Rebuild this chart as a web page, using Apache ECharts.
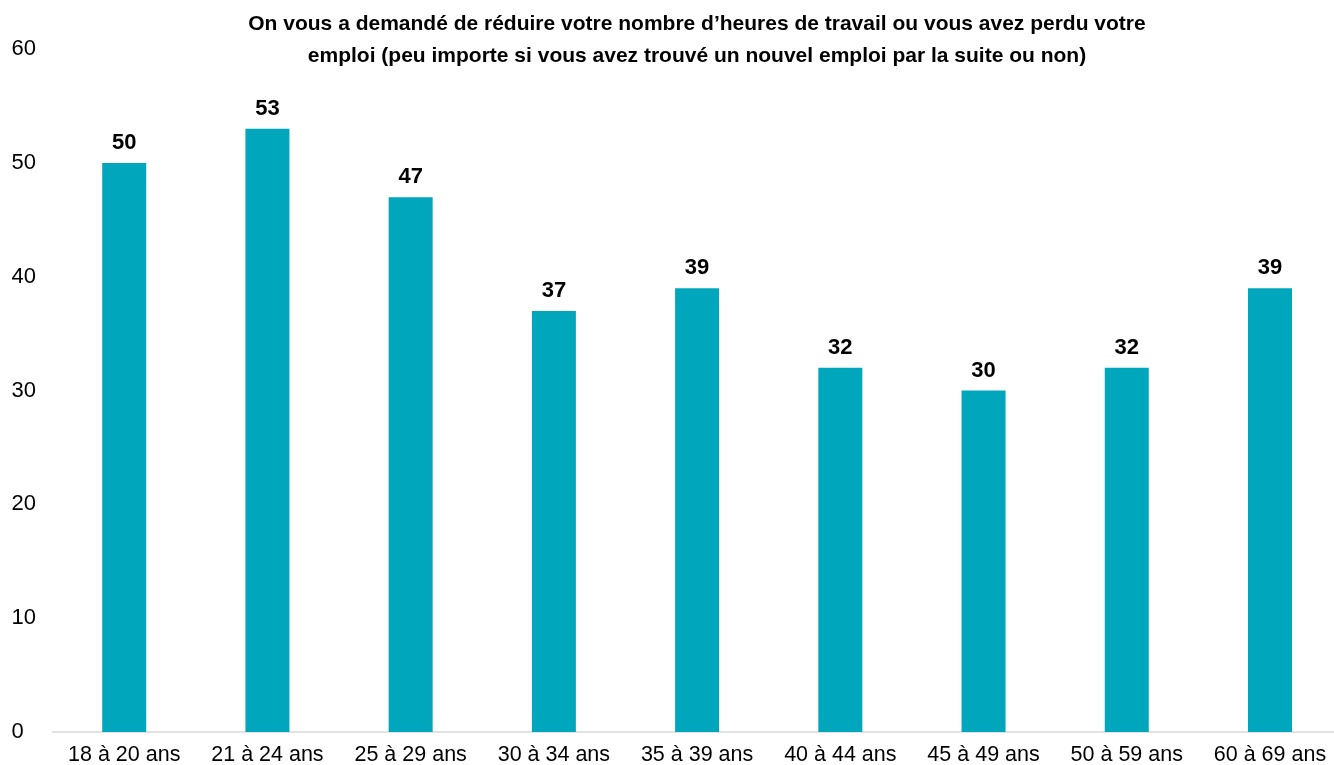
<!DOCTYPE html>
<html>
<head>
<meta charset="utf-8">
<script src="https://cdn.jsdelivr.net/npm/echarts@6/dist/echarts.min.js"></script>
<style>html,body{margin:0;padding:0;background:#fff;}#c{width:1334px;height:765px;}</style>
</head>
<body>
<div id="c"></div>
<script>
const categories = ['18 à 20 ans','21 à 24 ans','25 à 29 ans','30 à 34 ans','35 à 39 ans','40 à 44 ans','45 à 49 ans','50 à 59 ans','60 à 69 ans'];
const values = [50, 53, 47, 37, 39, 32, 30, 32, 39];
const titleLines = ['On vous a demandé de réduire votre nombre d’heures de travail ou vous avez perdu votre', 'emploi (peu importe si vous avez trouvé un nouvel emploi par la suite ou non)'];

const chart = echarts.init(document.getElementById('c'));
chart.setOption({
  animation: false,
  backgroundColor: '#fff',
  textStyle: { fontFamily: 'Liberation Sans, Arial, sans-serif' },
  title: {
    text: titleLines.join('\n'),
    left: 692, top: 3, textAlign: 'center',
    textStyle: { fontSize: 21, fontWeight: 'bold', color: '#000', lineHeight: 32, fontFamily: 'Liberation Sans, Arial, sans-serif' }
  },
  grid: { left: 52.6, top: 49.2, width: 1289, bottom: 33, outerBoundsMode: 'none', containLabel: false },
  xAxis: {
    type: 'category', data: categories,
    axisLine: { lineStyle: { color: '#d9d9d9', width: 1.5 } },
    axisTick: { show: false },
    axisLabel: { color: '#000', fontSize: 21.5, margin: 12, interval: 0 }
  },
  yAxis: {
    type: 'value', min: 0, max: 60, interval: 10,
    splitLine: { show: false },
    axisLine: { show: false }, axisTick: { show: false },
    axisLabel: { color: '#000', fontSize: 22, align: 'left', margin: 41 }
  },
  series: [{
    type: 'bar', data: values, barWidth: 44,
    itemStyle: { color: '#00a6bc' },
    label: { show: true, position: 'top', distance: 9, color: '#000', fontSize: 22, fontWeight: 'bold' }
  }]
});
</script>
</body>
</html>
